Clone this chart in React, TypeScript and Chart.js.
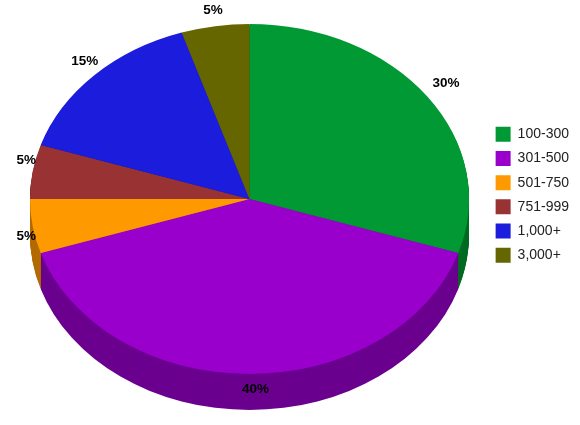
import { useRef, useEffect } from 'react';
import { Chart, registerables } from 'chart.js';

Chart.register(...registerables);

const categories = ['100-300', '301-500', '501-750', '751-999', '1,000+', '3,000+'];
const shares = [30, 40, 5, 5, 15, 5];
const topColors = ['#009933', '#9900CC', '#FF9900', '#993333', '#1C1CDC', '#666600'];
const sideColors = ['#006B24', '#6B008F', '#B36B00', '#6B2424', '#14149A', '#474700'];

// pie is drawn round by the library, then squashed into this ellipse
const ELLIPSE = { x: 249.5, y: 199, rx: 219.5, ry: 175, depth: 36 };
const LABEL_RADIUS = { x: 233, y: 192 };
// small hand nudges so labels sit where the reference has them
const labelNudgeX = [8, 6, 7, 7, 0, 0];
const labelNudgeY = [-3, -2, 7, -9, -2, 1];

const squash = (ctx: CanvasRenderingContext2D, arc: any, depth = 0) => {
  ctx.translate(ELLIPSE.x, ELLIPSE.y + depth);
  ctx.scale(ELLIPSE.rx / arc.outerRadius, ELLIPSE.ry / arc.outerRadius);
  ctx.translate(-arc.x, -arc.y);
};

const pie3d = {
  id: 'pie3d',
  beforeDatasetsDraw(chart: any) {
    const { ctx } = chart;
    const arcs = chart.getDatasetMeta(0).data;
    // side wall: stack of darker copies from the bottom up
    for (let d = ELLIPSE.depth; d > 0; d--) {
      ctx.save();
      squash(ctx, arcs[0], d);
      arcs.forEach((arc: any, i: number) => {
        const saved = arc.options;
        arc.options = Object.create(saved, {
          backgroundColor: { value: sideColors[i] },
        });
        arc.draw(ctx);
        arc.options = saved;
      });
      ctx.restore();
    }
    ctx.save();
    squash(ctx, arcs[0]);
  },
  afterDatasetsDraw(chart: any) {
    const { ctx } = chart;
    ctx.restore();
    const arcs = chart.getDatasetMeta(0).data;
    ctx.save();
    ctx.font = 'bold 13.5px "Liberation Sans", Arial, sans-serif';
    ctx.fillStyle = '#000';
    ctx.textAlign = 'center';
    ctx.textBaseline = 'middle';
    arcs.forEach((arc: any, i: number) => {
      const mid = (arc.startAngle + arc.endAngle) / 2;
      const x = ELLIPSE.x + LABEL_RADIUS.x * Math.cos(mid) + labelNudgeX[i];
      const y = ELLIPSE.y + LABEL_RADIUS.y * Math.sin(mid) + labelNudgeY[i];
      ctx.fillText(`${shares[i]}%`, x, y);
    });
    ctx.restore();
  },
};

export default function App() {
  const chartRef = useRef<HTMLCanvasElement>(null);

  useEffect(() => {
    if (!chartRef.current) return;
    document.body.style.margin = '0';

    const chart = new Chart(chartRef.current, {
      type: 'pie',
      data: {
        labels: categories,
        datasets: [
          {
            data: shares,
            backgroundColor: topColors,
            borderWidth: 0,
            clip: false,
          } as any,
        ],
      },
      options: {
        responsive: false,
        animation: false,
        layout: { padding: { right: 1, bottom: 35.5 } },
        plugins: {
          tooltip: { enabled: false },
          legend: {
            position: 'right',
            labels: {
              boxWidth: 15,
              boxHeight: 15,
              padding: 9.2,
              color: '#222',
              font: { size: 14, family: '"Liberation Sans", Arial, sans-serif' },
            },
          },
        },
      },
      plugins: [pie3d],
    });

    return () => {
      chart.destroy();
    };
  }, []);

  return <canvas ref={chartRef} width={580} height={425} style={{ display: 'block' }} />;
}
